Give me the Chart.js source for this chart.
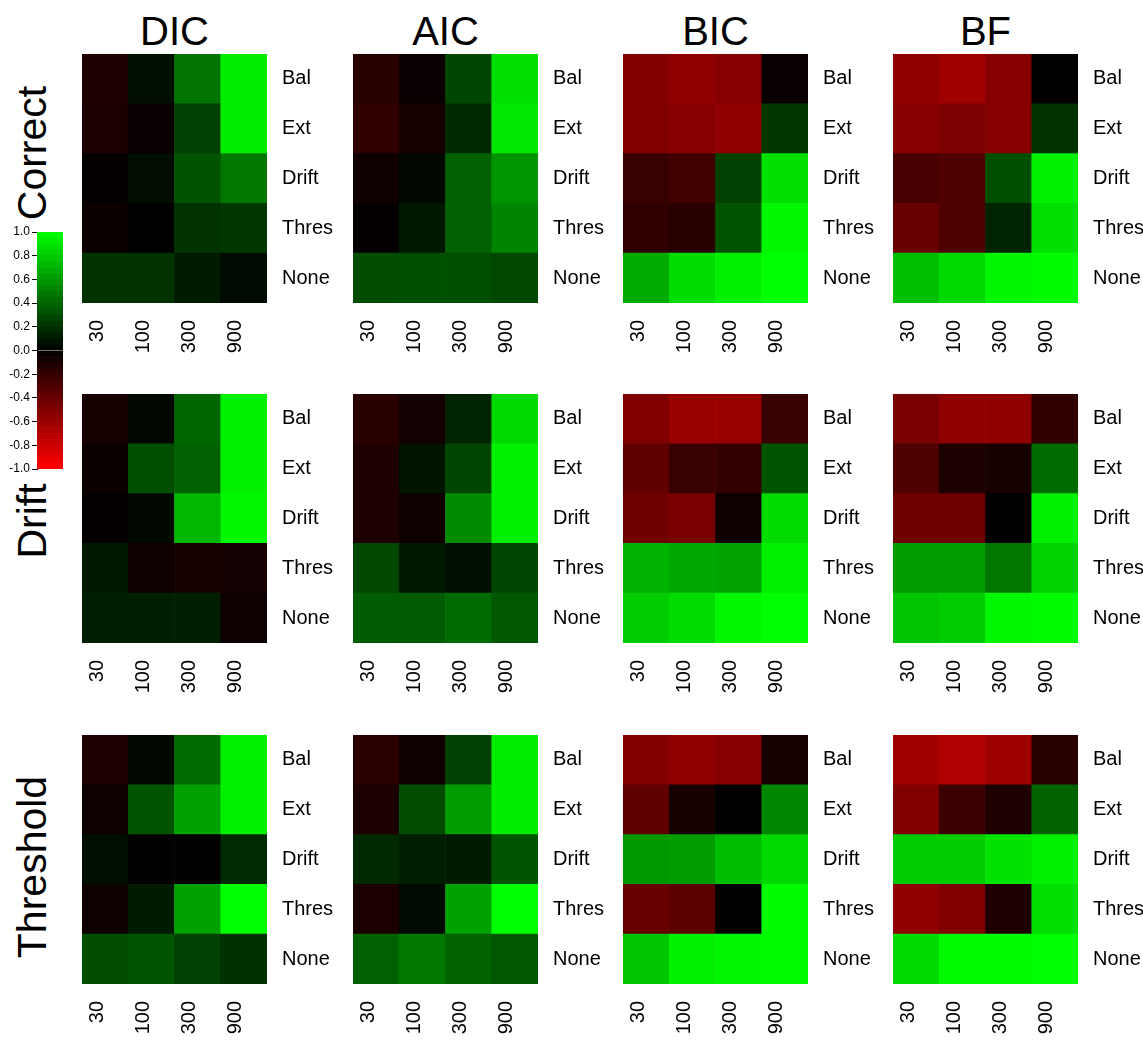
<!DOCTYPE html>
<html>
<head>
<meta charset="utf-8">
<script src="https://cdn.jsdelivr.net/npm/chart.js@4.4.0/dist/chart.umd.min.js"></script>
<style>
  body { margin: 0; background: #fff; overflow: hidden; }
  #fig { position: relative; width: 1143px; height: 1041px; font-family: "Liberation Sans", Arial, sans-serif; color: #000; }
  #fig canvas { position: absolute; }
  .colTitle { position: absolute; width: 200px; margin-left: -100px; text-align: center; font-size: 40px; line-height: 40px; }
  .rowTitle { position: absolute; width: 300px; margin-left: -150px; margin-top: -20px; text-align: center;
              font-size: 41px; line-height: 40px; transform: rotate(-90deg); }
</style>
</head>
<body>
<div id="fig"></div>
<script>
// ejes de cada mapa
const sizes = ['30', '100', '300', '900'];
const models = ['Bal', 'Ext', 'Drift', 'Thres', 'None'];
const criteria = ['DIC', 'AIC', 'BIC', 'BF'];
const generating = ['Correct', 'Drift', 'Threshold'];

// filas: Bal, Ext, Drift, Thres, None / columnas: 30, 100, 300, 900
const correctDIC = [
  [-0.12, 0.06, 0.45, 0.93],
  [-0.10, -0.03, 0.25, 0.93],
  [-0.02, 0.05, 0.32, 0.47],
  [-0.04, 0.00, 0.20, 0.22],
  [0.20, 0.20, 0.11, 0.04]
];
const correctAIC = [
  [-0.16, -0.03, 0.27, 0.88],
  [-0.19, -0.09, 0.16, 0.91],
  [-0.06, 0.03, 0.38, 0.58],
  [-0.02, 0.09, 0.38, 0.52],
  [0.30, 0.31, 0.31, 0.28]
];
const correctBIC = [
  [-0.50, -0.56, -0.53, -0.03],
  [-0.50, -0.53, -0.57, 0.22],
  [-0.22, -0.25, 0.25, 0.88],
  [-0.19, -0.16, 0.33, 0.97],
  [0.67, 0.86, 0.94, 1.00]
];
const correctBF = [
  [-0.56, -0.63, -0.53, -0.01],
  [-0.53, -0.49, -0.53, 0.20],
  [-0.28, -0.31, 0.31, 0.94],
  [-0.41, -0.31, 0.14, 0.88],
  [0.75, 0.85, 0.96, 0.98]
];
const driftDIC = [
  [-0.09, 0.03, 0.40, 0.94],
  [-0.04, 0.31, 0.38, 0.94],
  [-0.02, 0.03, 0.72, 0.97],
  [0.09, -0.06, -0.09, -0.08],
  [0.12, 0.12, 0.12, -0.05]
];
const driftAIC = [
  [-0.16, -0.08, 0.14, 0.85],
  [-0.12, 0.08, 0.27, 0.94],
  [-0.12, -0.06, 0.55, 0.94],
  [0.28, 0.09, 0.06, 0.27],
  [0.36, 0.36, 0.42, 0.34]
];
const driftBIC = [
  [-0.50, -0.60, -0.60, -0.22],
  [-0.38, -0.22, -0.20, 0.33],
  [-0.44, -0.47, -0.06, 0.86],
  [0.70, 0.66, 0.64, 0.94],
  [0.80, 0.86, 0.97, 1.00]
];
const driftBF = [
  [-0.47, -0.56, -0.56, -0.19],
  [-0.31, -0.11, -0.09, 0.42],
  [-0.44, -0.44, 0.00, 0.94],
  [0.61, 0.61, 0.47, 0.82],
  [0.77, 0.80, 0.97, 0.98]
];
const thresDIC = [
  [-0.12, 0.03, 0.41, 0.94],
  [-0.05, 0.33, 0.63, 0.94],
  [0.06, -0.01, -0.01, 0.17],
  [-0.06, 0.11, 0.63, 1.00],
  [0.30, 0.33, 0.25, 0.19]
];
const thresAIC = [
  [-0.17, -0.06, 0.25, 0.93],
  [-0.11, 0.30, 0.61, 0.93],
  [0.16, 0.12, 0.11, 0.33],
  [-0.11, 0.04, 0.63, 1.00],
  [0.38, 0.47, 0.39, 0.34]
];
const thresBIC = [
  [-0.50, -0.56, -0.53, -0.09],
  [-0.38, -0.09, 0.00, 0.53],
  [0.60, 0.61, 0.74, 0.85],
  [-0.41, -0.36, 0.00, 0.98],
  [0.77, 0.94, 0.96, 0.98]
];
const thresBF = [
  [-0.63, -0.69, -0.61, -0.16],
  [-0.50, -0.24, -0.12, 0.39],
  [0.80, 0.80, 0.89, 0.94],
  [-0.56, -0.50, -0.12, 0.88],
  [0.85, 0.98, 0.99, 1.00]
];

const panels = [
  [correctDIC, correctAIC, correctBIC, correctBF],
  [driftDIC, driftAIC, driftBIC, driftBF],
  [thresDIC, thresAIC, thresBIC, thresBF]
];

// escala de la leyenda
const legendTicks = [-1.0, -0.8, -0.6, -0.4, -0.2, 0.0, 0.2, 0.4, 0.6, 0.8, 1.0];
const legendBands = 40;

// posiciones en pixeles
const panelLeft = [82, 353, 623, 893];
const panelTop = [54, 394, 735];
const panelW = 185, panelH = 249;
const rowTitleY = [153, 521, 867];

function colorFor(v) {
  const c = Math.round(Math.min(1, Math.abs(v)) * 255);
  return v >= 0 ? `rgb(0,${c},0)` : `rgb(${c},0,0)`;
}

const fig = document.getElementById('fig');

function addCanvas(left, top, w, h) {
  const c = document.createElement('canvas');
  c.width = w; c.height = h;
  c.style.left = left + 'px';
  c.style.top = top + 'px';
  fig.appendChild(c);
  return c;
}

function noPad(s) {
  s.paddingTop = 0; s.paddingBottom = 0;
  s.paddingLeft = 0; s.paddingRight = 0;
}

function drawPanel(canvas, values) {
  // apilado de abajo hacia arriba: None primero
  const datasets = models.map((m, r) => ({
    label: m,
    data: sizes.map(() => 1),
    backgroundColor: values[r].map(colorFor),
    borderWidth: 0
  })).reverse();

  new Chart(canvas, {
    type: 'bar',
    data: { labels: sizes, datasets: datasets },
    options: {
      responsive: false,
      animation: false,
      layout: { padding: 0 },
      datasets: { bar: { categoryPercentage: 1, barPercentage: 1 } },
      plugins: { legend: { display: false }, tooltip: { enabled: false } },
      scales: {
        x: {
          stacked: true,
          grid: { display: false, drawTicks: false },
          border: { display: false },
          ticks: { minRotation: 90, maxRotation: 90, padding: 17, labelOffset: -8,
                   color: '#000', font: { family: 'Liberation Sans', size: 20 } },
          afterFit: s => { s.height = 70; noPad(s); }
        },
        y: { stacked: true, min: 0, max: models.length, display: false },
        rows: {
          type: 'category',
          labels: models,
          position: 'right',
          offset: true,
          grid: { display: false, drawTicks: false },
          border: { display: false },
          ticks: { padding: 15, color: '#000', font: { family: 'Liberation Sans', size: 20 } },
          afterFit: s => { s.width = 75; noPad(s); }
        }
      }
    }
  });
}

panels.forEach((row, i) => {
  row.forEach((values, j) => {
    const cv = addCanvas(panelLeft[j], panelTop[i], panelW + 75, panelH + 70);
    drawPanel(cv, values);
  });
});

// titulos de columnas y filas
criteria.forEach((t, j) => {
  const d = document.createElement('div');
  d.className = 'colTitle';
  d.textContent = t;
  d.style.left = (panelLeft[j] + panelW / 2) + 'px';
  d.style.top = '11px';
  fig.appendChild(d);
});
generating.forEach((t, i) => {
  const d = document.createElement('div');
  d.className = 'rowTitle';
  d.textContent = t;
  d.style.left = '32px';
  d.style.top = rowTitleY[i] + 'px';
  fig.appendChild(d);
});

// barra de color
const bands = [];
for (let k = 0; k < legendBands; k++) {
  const lo = -1 + 2 * k / legendBands, hi = -1 + 2 * (k + 1) / legendBands;
  bands.push([lo, hi]);
}
const cb = addCanvas(0, 222, 70, 260);
new Chart(cb, {
  type: 'bar',
  data: {
    labels: [''],
    datasets: bands.map(b => ({
      data: [b],
      backgroundColor: colorFor((b[0] + b[1]) / 2),
      borderWidth: 0,
      grouped: false,
      categoryPercentage: 1,
      barPercentage: 1
    }))
  },
  options: {
    responsive: false,
    animation: false,
    layout: { padding: { top: 10, bottom: 13, left: 0, right: 7 } },
    plugins: { legend: { display: false }, tooltip: { enabled: false } },
    scales: {
      x: { display: false },
      y: {
        min: -1, max: 1,
        afterBuildTicks: s => { s.ticks = legendTicks.map(v => ({ value: v })); },
        grid: { drawOnChartArea: false, tickLength: 5, color: '#000' },
        border: { color: '#000' },
        ticks: {
          padding: 2, color: '#000',
          font: { family: '"Liberation Sans Narrow", "Liberation Sans"', size: 12 },
          callback: v => (Math.abs(v) < 1e-9 ? 0 : v).toFixed(1)
        },
        afterFit: s => { s.width = 37; }
      }
    }
  }
});
</script>
</body>
</html>
